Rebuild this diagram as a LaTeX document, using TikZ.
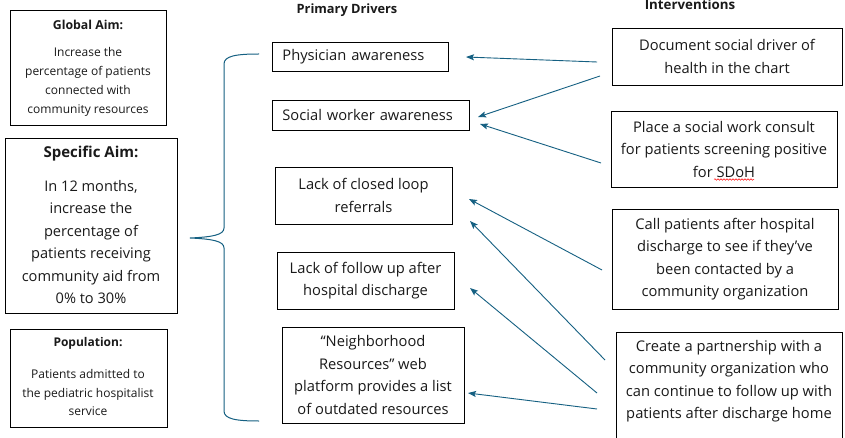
\documentclass[tikz,border=0pt]{standalone}
\usepackage{fontspec}
\setmainfont{Open Sans}
\usetikzlibrary{arrows.meta,decorations.pathmorphing}
\definecolor{accent}{HTML}{156082}
\definecolor{ink}{HTML}{1A1A1A}
\begin{document}
\begin{tikzpicture}[x=1pt,y=-1pt,
  box/.style={draw=black, line width=0.85pt, inner sep=0pt, text=ink},
  mainfont/.style={font=\fontsize{14.7}{22.5}\selectfont},
  smallfont/.style={font=\fontsize{12}{19}\selectfont},
  txt/.style={inner sep=0pt, text=ink, align=center},
  header/.style={inner sep=0pt, text=ink, font=\bfseries\fontsize{12.8}{15}\selectfont},
  link/.style={draw=accent, line width=0.9pt, -{Stealth[length=8pt,width=6pt,inset=1.5pt]}},
  brace/.style={draw=accent, line width=1pt}]
\clip (0,0) rectangle (845,438);
\fill[white] (0,0) rectangle (845,438);

% --- aims and population (left column)
\node[box, minimum width=156, minimum height=115, anchor=north west] (globalbox) at (10,10) {};
\node[txt, font=\bfseries\fontsize{12.3}{15}\selectfont] (globaltitle) at (88,25) {Global Aim:};
\node[txt, smallfont] (globalbody) at (88,82) {Increase the\\percentage of patients\\connected with\\community resources};

\node[box, minimum width=172, minimum height=175, anchor=north west] (specificbox) at (5,138) {};
\node[txt, font=\bfseries\fontsize{15}{18}\selectfont] (specifictitle) at (91,154) {Specific Aim:};
\node[txt, font=\fontsize{14.6}{22.4}\selectfont] (specificbody) at (91,242) {In 12 months,\\increase the\\percentage of\\patients receiving\\community aid from\\0\% to 30\%};

\node[box, minimum width=157, minimum height=98, anchor=north west] (popbox) at (10,329) {};
\node[txt, font=\bfseries\fontsize{12}{15}\selectfont] (poptitle) at (88,343) {Population:};
\node[txt, font=\fontsize{12}{18.5}\selectfont] (popbody) at (88,392.5) {Patients admitted to\\the pediatric hospitalist\\service};

% --- brace joining the aims to the drivers
\draw[brace] (259,54) .. controls (236,54) and (224,56) .. (224,64)
  -- (224,228) .. controls (224,235) and (212,237) .. (190,238)
  .. controls (212,239) and (224,241) .. (224,248)
  -- (224,411) .. controls (224,419) and (236,421) .. (259,421);

% --- column headers
\node[header] (drivershead) at (347,10) {Primary Drivers};
\node[header, font=\bfseries\fontsize{13.3}{15}\selectfont] (intervhead) at (690,5) {Interventions};

% --- primary drivers
\node[box, mainfont, anchor=north west, minimum height=29, text width=156, inner xsep=10pt, align=left] (physician) at (272,42) {Physician awareness};
\node[box, mainfont, anchor=north west, minimum height=30, text width=177, inner xsep=10pt, align=left] (socialworker) at (272,100) {Social worker awareness};
\node[box, mainfont, align=center, minimum width=177, minimum height=57] (closedloop) at (363.5,195.5) {Lack of closed loop\\referrals};
\node[box, mainfont, align=center, minimum width=177, minimum height=57] (followup) at (365.5,280.5) {Lack of follow up after\\hospital discharge};
\node[box, mainfont, align=center, minimum width=182, minimum height=96] (neighborhood) at (373,375) {``Neighborhood\\Resources'' web\\platform provides a list\\of outdated resources};

% --- interventions
\node[box, mainfont, align=center, minimum width=230, minimum height=57] (document) at (727,56.5) {Document social driver of\\health in the chart};
\node[box, mainfont, align=center, minimum width=226, minimum height=76] (consult) at (724,149) {Place a social work consult\\for patients screening positive\\for SDoH};
\node[box, mainfont, align=center, minimum width=226, minimum height=115, anchor=north] (partner) at (729,332) {};
\node[txt, mainfont] (partnertext) at (729,381) {Create a partnership with a\\community organization who\\can continue to follow up with\\patients after discharge home};
\node[box, mainfont, align=center, minimum width=226, minimum height=100] (callpts) at (725,259) {Call patients after hospital\\discharge to see if they’ve\\been contacted by a\\community organization};

% spell-check mark under the abbreviation
\draw[red, line width=0.5pt, decorate, decoration={snake, amplitude=0.8pt, segment length=3pt}] (714,179.5) -- (754,179.5);

% --- connector end points
\coordinate (docA) at (597,62);   \coordinate (physIn) at (466,57);
\coordinate (docB) at (600,76);   \coordinate (swInA) at (478,117);
\coordinate (conA) at (601,163);  \coordinate (swInB) at (480,124);
\coordinate (callA) at (602,270); \coordinate (clInA) at (469,199);
\coordinate (parA) at (605,360);  \coordinate (clInB) at (470,221);
\coordinate (parB) at (597,393);  \coordinate (fuIn) at (470,288);
\coordinate (parC) at (597,409);  \coordinate (nbIn) at (468,393);

% --- interventions acting on drivers
\draw[link] (docA) -- (physIn);
\draw[link] (docB) -- (swInA);
\draw[link] (conA) -- (swInB);
\draw[link] (callA) -- (clInA);
\draw[link] (parA) -- (clInB);
\draw[link] (parB) -- (fuIn);
\draw[link] (parC) -- (nbIn);
\end{tikzpicture}
\end{document}
